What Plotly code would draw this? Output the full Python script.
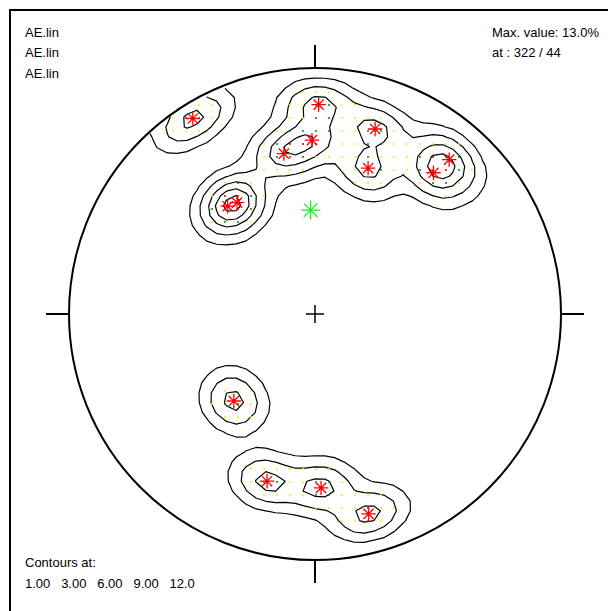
import numpy as np
import plotly.graph_objects as go

# ---- data (lineations: trend / plunge in degrees) ----
trend = [328, 1, 18, 359, 349, 20, 41, 40, 325, 321, 223, 196, 178, 165]
plunge = [7, 16, 22, 30, 34, 37, 18, 26, 44, 43, 50, 30, 30, 17]
contour_levels = [1.0, 3.0, 6.0, 9.0, 12.0]
file_labels = ["AE.lin", "AE.lin", "AE.lin"]
max_text = ["Max. value: 13.0%", "at : 322 / 44"]
contour_text = ["Contours at:", "1.00   3.00   6.00   9.00   12.0"]

# ---- layout constants (pixels) ----
W, H = 608, 611
CX, CY, RAD = 315, 314, 246
KAPPA = 100.0

def project(t, p):
    t = np.radians(t); p = np.radians(p)
    r = np.sqrt(2) * np.sin((np.pi / 2 - p) / 2)
    return r * np.sin(t), r * np.cos(t)

def vec(t, p):
    t = np.radians(t); p = np.radians(p)
    return np.stack([np.cos(p) * np.cos(t), np.cos(p) * np.sin(t), np.sin(p)], axis=-1)

tr = np.array(trend, float); pl = np.array(plunge, float)
V = vec(tr, pl)

def density(GX, GY):
    R = np.hypot(GX, GY)
    Rc = np.clip(R, 0, 1)
    phi = 2 * np.arcsin(Rc / np.sqrt(2))
    gp = 90 - np.degrees(phi)
    gt = np.degrees(np.arctan2(GX, GY))
    c = vec(gt, gp) @ V.T
    Z = 100.0 / len(trend) * np.exp(KAPPA * (c - 1)).sum(axis=-1)
    return Z, R <= 1.0

# contour grid
g = np.linspace(-1, 1, 51)
GX, GY = np.meshgrid(g, g)
Z, inside = density(GX, GY)
Z = np.where(inside, Z, np.nan)

fig = go.Figure()

for lv in contour_levels:
    fig.add_trace(go.Contour(
        x=g, y=g, z=Z,
        contours=dict(start=lv, end=lv, size=1, coloring="lines"),
        colorscale=[[0, "black"], [1, "black"]],
        line=dict(width=1.2, smoothing=0),
        showscale=False, hoverinfo="skip"))

# grid node dots (coarser counting grid)
gd = np.arange(-1, 1.0001, 13 / RAD)
DX, DY = np.meshgrid(gd, gd)
DZ, din = density(DX, DY)
bands = [(3, 6, "#f0f000"), (6, 9, "#008800"), (9, 1e9, "#cc0000")]
for lo, hi, col in bands:
    m = din & (DZ >= lo) & (DZ < hi)
    fig.add_trace(go.Scatter(x=DX[m], y=DY[m], mode="markers",
                             marker=dict(size=2, color=col), hoverinfo="skip"))

# data points
px, py = project(tr, pl)
fig.add_trace(go.Scatter(x=px, y=py, mode="markers",
                         marker=dict(symbol="asterisk-open", size=12, color="red",
                                     line=dict(color="red", width=1.3))))

# mean vector
s = V.sum(axis=0)
mt = np.degrees(np.arctan2(s[1], s[0])) % 360
mp = np.degrees(np.arctan2(s[2], np.hypot(s[0], s[1])))
mx, my = project(mt, mp)
fig.add_trace(go.Scatter(x=[mx], y=[my], mode="markers",
                         marker=dict(symbol="asterisk-open", size=16, color="#22ee22",
                                     line=dict(color="#22ee22", width=1.2))))

shapes = [dict(type="circle", xref="x", yref="y", x0=-1, y0=-1, x1=1, y1=1,
               line=dict(color="black", width=2))]
L = 23 / RAD
for dx, dy in [(0, 1), (1, 0), (0, -1), (-1, 0)]:
    shapes.append(dict(type="line", xref="x", yref="y", x0=dx, y0=dy,
                       x1=dx * (1 + L), y1=dy * (1 + L), line=dict(color="black", width=2)))
cc = 9 / RAD
shapes.append(dict(type="line", xref="x", yref="y", x0=-cc, y0=0, x1=cc, y1=0, line=dict(color="black", width=1.5)))
shapes.append(dict(type="line", xref="x", yref="y", x0=0, y0=-cc, x1=0, y1=cc, line=dict(color="black", width=1.5)))
shapes.append(dict(type="rect", xref="paper", yref="paper", x0=10 / W, y0=-0.1, x1=1.1,
                   y1=1 - 10 / H, line=dict(color="black", width=2)))

font = dict(family="Liberation Sans, Arial, sans-serif", size=13, color="black")
ann = []
def add_text(txt, xp, yp):
    ann.append(dict(text=txt, xref="paper", yref="paper", x=xp / W, y=1 - yp / H,
                    xanchor="left", yanchor="middle", showarrow=False, font=font))
for i, t in enumerate(file_labels):
    add_text(t, 23, 33 + 20 * i)
for i, t in enumerate(max_text):
    add_text(t, 490, 33 + 20 * i)
add_text(contour_text[0], 23, 562)
add_text(contour_text[1], 23, 583)

fig.update_layout(
    width=W, height=H, margin=dict(l=0, r=0, t=0, b=0, pad=0),
    paper_bgcolor="white", plot_bgcolor="white", showlegend=False,
    xaxis=dict(range=[-CX / RAD, (W - CX) / RAD], visible=False, fixedrange=True),
    yaxis=dict(range=[-(H - CY) / RAD, CY / RAD], visible=False, fixedrange=True),
    shapes=shapes, annotations=ann)

fig.write_html("out.html", config={"displayModeBar": False},
               post_script="document.body.style.margin='0';document.body.style.overflow='hidden';")
